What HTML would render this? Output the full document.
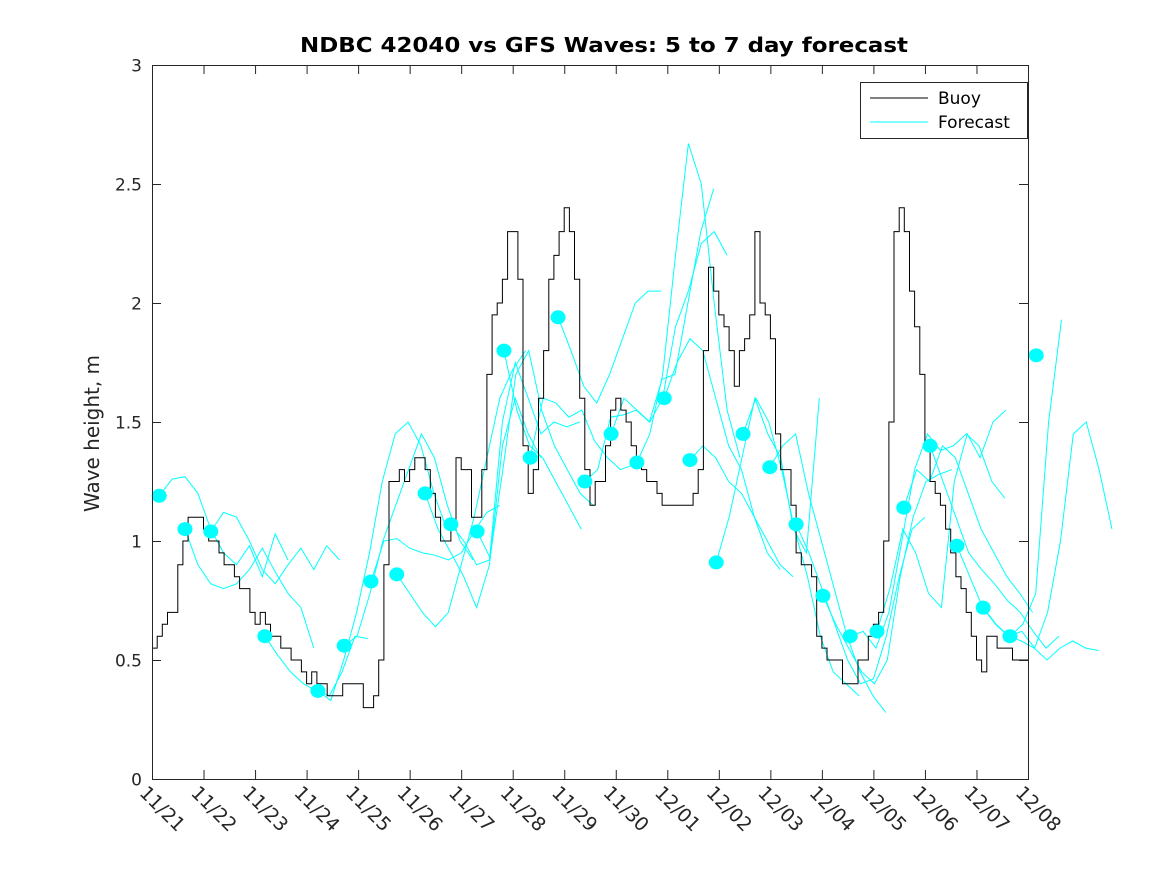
<!DOCTYPE html>
<html><head><meta charset="utf-8"><style>
body{margin:0;background:#fff;width:1167px;height:875px;overflow:hidden}
svg{font-family:"DejaVu Sans","Liberation Sans",sans-serif}
</style></head><body>
<svg id="chart" width="1167" height="875"></svg>
<script>
const xTickLabels=["11/21","11/22","11/23","11/24","11/25","11/26","11/27","11/28","11/29","11/30","12/01","12/02","12/03","12/04","12/05","12/06","12/07","12/08"];
const yTickLabels=["0","0.5","1","1.5","2","2.5","3"];
const buoyStep=0.1;
const buoyVals=[0.55,0.6,0.65,0.7,0.7,0.9,1.0,1.1,1.1,1.1,1.05,1.0,1.0,0.95,0.9,0.9,0.85,0.8,0.8,0.7,0.65,0.7,0.65,0.6,0.6,0.55,0.55,0.5,0.5,0.45,0.4,0.45,0.4,0.4,0.35,0.35,0.35,0.4,0.4,0.4,0.4,0.3,0.3,0.35,0.5,0.9,1.25,1.25,1.3,1.25,1.3,1.35,1.35,1.3,1.2,1.1,1.0,1.0,1.05,1.35,1.3,1.3,1.1,1.1,1.3,1.7,1.95,2.0,2.1,2.3,2.3,2.1,1.4,1.2,1.3,1.6,1.8,2.1,2.2,2.3,2.4,2.3,2.1,1.6,1.3,1.15,1.25,1.25,1.4,1.55,1.6,1.55,1.5,1.4,1.35,1.3,1.25,1.25,1.2,1.15,1.15,1.15,1.15,1.15,1.15,1.2,1.3,1.8,2.15,2.05,1.95,1.9,1.8,1.65,1.8,1.85,1.95,2.3,2.0,1.95,1.85,1.45,1.3,1.3,1.15,0.95,0.9,0.9,0.85,0.6,0.55,0.5,0.5,0.5,0.4,0.4,0.4,0.5,0.5,0.6,0.65,0.7,1.0,1.5,2.3,2.4,2.3,2.05,1.9,1.7,1.4,1.25,1.2,1.15,1.05,0.95,0.85,0.8,0.7,0.6,0.5,0.45,0.6,0.6,0.55,0.55,0.55,0.5,0.5,0.5];
const dotDays=[0.14,0.64,1.14,2.19,3.22,3.73,4.25,4.75,5.30,5.80,6.31,6.83,7.34,7.88,8.40,8.91,9.41,9.94,10.44,10.95,11.47,11.99,12.50,13.02,13.55,14.07,14.59,15.10,15.62,16.13,16.65,17.16];
const dotVals=[1.19,1.05,1.04,0.60,0.37,0.56,0.83,0.86,1.20,1.07,1.04,1.80,1.35,1.94,1.25,1.45,1.33,1.60,1.34,0.91,1.45,1.31,1.07,0.77,0.60,0.62,1.14,1.40,0.98,0.72,0.60,1.78];
const fcStep=0.25;
const fcStarts=[0.14,0.64,1.14,2.19,3.22,3.73,4.25,4.75,5.30,5.80,6.31,6.83,7.34,7.88,8.40,8.91,9.41,9.94,10.44,10.95,11.47,11.99,12.50,13.02,13.55,14.07,14.59,15.10,15.62,16.13,16.65];
const fcVals=[
[1.19,1.26,1.27,1.2,1.05,0.95,0.9,0.98,0.85,1.03,0.92],
[1.05,0.9,0.82,0.8,0.82,0.88,0.97,0.87,0.78,0.72,0.55],
[1.04,1.12,1.1,1.0,0.88,0.82,0.9,0.97,0.88,0.98,0.92],
[0.60,0.52,0.45,0.40,0.37,0.35,0.45,0.6,0.59],
[0.37,0.33,0.5,0.7,0.95,1.25,1.45,1.5,1.4,1.2,1.05],
[0.56,0.6,0.78,1.0,1.15,1.3,1.45,1.35,1.15,1.0,0.92],
[0.83,1.0,1.01,0.97,0.95,0.94,0.92,0.95,1.04,1.12,1.15],
[0.86,0.78,0.7,0.64,0.7,0.9,1.1,1.35,1.6,1.72,1.8],
[1.2,1.05,0.95,0.85,0.72,0.9,1.4,1.6,1.45,1.35],
[1.07,1.0,0.9,0.92,1.5,1.75,1.6,1.45,1.5,1.48,1.5],
[1.04,0.93,1.3,1.7,1.8,1.55,1.4,1.3,1.2,1.15],
[1.80,1.55,1.4,1.35,1.25,1.15,1.05],
[1.35,1.6,1.58,1.52,1.55,1.42,1.35,1.3,1.32],
[1.94,1.8,1.65,1.58,1.7,1.85,2.0,2.05,2.05],
[1.25,1.3,1.52,1.53,1.55,1.5,1.68,1.7,2.0,2.3,2.48],
[1.45,1.6,1.55,1.5,1.6,1.9,2.05,2.25,2.3,2.2],
[1.33,1.45,1.7,2.2,2.67,2.5,2.0,1.55,1.35],
[1.60,1.75,1.85,1.8,1.6,1.4,1.3,1.1,0.95,0.88],
[1.34,1.4,1.35,1.25,1.2,1.1,1.0,0.9,0.85],
[0.91,1.1,1.35,1.6,1.45,1.35,1.05,0.95,1.6],
[1.45,1.6,1.5,1.3,1.05,0.85,0.6,0.45,0.4,0.35],
[1.31,1.4,1.45,1.2,1.0,0.8,0.6,0.45,0.35,0.28],
[1.07,0.95,0.8,0.65,0.5,0.4,0.42,0.6,0.85,1.05,1.1],
[0.77,0.65,0.55,0.45,0.4,0.5,0.85,1.1,1.25,1.28,1.3],
[0.60,0.62,0.55,0.7,1.0,1.3,1.45,1.38,1.4,1.45,1.4,1.25,1.18],
[0.62,0.8,1.05,0.95,0.78,0.72,1.25,1.45,1.35,1.5,1.55],
[1.14,1.3,1.25,1.4,1.35,1.2,1.05,0.95,0.85,0.78,0.7],
[1.40,1.25,1.1,0.95,0.88,0.82,0.75,0.7,0.62,0.55,0.6],
[0.98,0.85,0.72,0.65,0.6,0.58,0.55,0.5,0.55,0.58,0.55,0.54],
[0.72,0.65,0.6,0.62,0.55,0.7,1.0,1.45,1.5,1.3,1.05],
[0.60,0.65,0.78,1.5,1.93]
];
const X0=152,X1=1028,Y0=779,Y1=65;
const xs=d=>X0+d*(X1-X0)/17;
const ys=v=>Y0-v*(Y0-Y1)/3;
const NS="http://www.w3.org/2000/svg";
const svg=document.getElementById('chart');
function mk(tag,attrs,parent){const e=document.createElementNS(NS,tag);for(const k in attrs)e.setAttribute(k,attrs[k]);(parent||svg).appendChild(e);return e;}
const bg=mk('rect',{x:X0,y:Y1,width:X1-X0,height:Y0-Y1,fill:'#fff'});


const fg=mk('g',{});


fcVals.forEach((vals,i)=>{
 const pts=vals.map((v,j)=>xs(fcStarts[i]+j*fcStep).toFixed(1)+','+ys(v).toFixed(1)).join(' ');
 const p=mk('polyline',{points:pts,fill:'none',stroke:'#00ffff','stroke-width':1},fg);
 
 
});
let bp='';
buoyVals.forEach((v,i)=>{const x=xs(i*buoyStep),y=ys(v);bp+=(i?'L':'M')+x.toFixed(1)+','+y.toFixed(1)+' H'+xs((i+1)*buoyStep).toFixed(1)+' ';});
const bl=mk('path',{d:bp,fill:'none',stroke:'#000','stroke-width':1});


dotDays.forEach((d,i)=>{
 const c=mk('ellipse',{cx:xs(d),cy:ys(dotVals[i]),rx:7.5,ry:7,fill:'#00ffff'});
 
 
});
const box=mk('rect',{x:X0+0.5,y:Y1+0.5,width:X1-X0,height:Y0-Y1,fill:'none',stroke:'#262626','stroke-width':1});


xTickLabels.forEach((t,i)=>{
 const x=xs(i)+0.5;
 mk('line',{x1:x,x2:x,y1:Y0,y2:Y0-9,stroke:'#262626'});
 mk('line',{x1:x,x2:x,y1:Y1,y2:Y1+9,stroke:'#262626'});
 const tx=mk('text',{x:x-14,y:Y0+15,'font-size':19,fill:'#262626',transform:`rotate(45 ${x-14} ${Y0+15})`});
 tx.textContent=t;
 
 
});
yTickLabels.forEach((t,i)=>{
 const y=ys(+t)+0.5;
 mk('line',{x1:X0,x2:X0+9,y1:y,y2:y,stroke:'#262626'});
 mk('line',{x1:X1,x2:X1-9,y1:y,y2:y,stroke:'#262626'});
 const tx=mk('text',{x:X0-10,y:y+6,'font-size':17,fill:'#262626','text-anchor':'end'});
 tx.textContent=t;
 
 
});
</script>
<svg style="position:absolute;left:0;top:0;font-family:'DejaVu Sans','Liberation Sans',sans-serif" width="1167" height="875">
<text x="300" y="52" font-size="20" font-weight="bold" fill="#000" textLength="608" lengthAdjust="spacingAndGlyphs">NDBC 42040 vs GFS Waves: 5 to 7 day forecast</text>
<text transform="translate(99 512) rotate(-90)" font-size="20" fill="#262626" textLength="157" lengthAdjust="spacingAndGlyphs">Wave height, m</text>
<g>
<rect x="860.5" y="82.5" width="167" height="56" fill="#fff" stroke="#262626"/>
<line x1="870" x2="928" y1="98" y2="98" stroke="#000"/>
<text x="938" y="104" font-size="17" fill="#000">Buoy</text>
<line x1="870" x2="928" y1="122" y2="122" stroke="#00ffff"/>
<text x="938" y="128" font-size="17" fill="#000">Forecast</text>
</g>
</svg>
</body></html>
